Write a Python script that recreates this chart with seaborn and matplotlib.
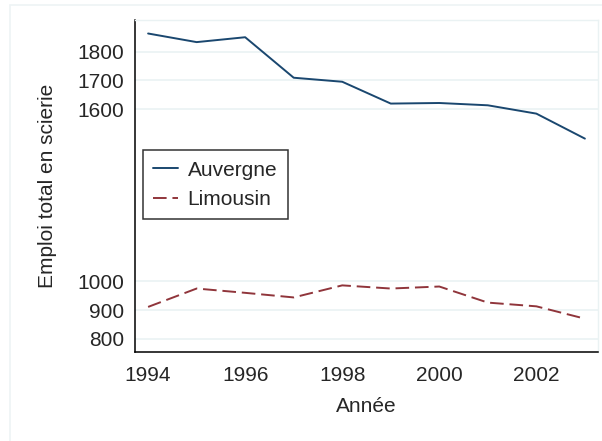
import pandas as pd
import matplotlib.pyplot as plt
import matplotlib.patches as mpatches
import seaborn as sns

# Data
years = [1994, 1995, 1996, 1997, 1998, 1999, 2000, 2001, 2002, 2003]
auvergne = [1863, 1833, 1850, 1709, 1695, 1619, 1621, 1613, 1584, 1497]
limousin = [911, 975, 960, 944, 986, 975, 982, 926, 913, 870]
regions = ['Auvergne', 'Limousin']
yticks = [800, 900, 1000, 1600, 1700, 1800]
xticks = [1994, 1996, 1998, 2000, 2002]

df = pd.DataFrame({
    'annee': years * 2,
    'emploi': auvergne + limousin,
    'region': [regions[0]] * len(years) + [regions[1]] * len(years),
})

sns.set_style('white')
plt.rcParams['font.family'] = ['Liberation Sans', 'DejaVu Sans']
fs = 15

fig = plt.figure(figsize=(6.02, 4.41), dpi=100)
# light outer frame like the graph region
fig.patches.append(mpatches.Rectangle((10 / 602, -0.1), 1.2, 1 - 5 / 441 + 0.1,
                                      transform=fig.transFigure, fill=False,
                                      edgecolor='#eef3f5', linewidth=1.2))
ax = fig.add_axes([135 / 602, 1 - 352 / 441, 463 / 602, 332 / 441])

sns.lineplot(data=df, x='annee', y='emploi', hue='region', style='region',
             palette={'Auvergne': '#1a476f', 'Limousin': '#90353b'},
             dashes={'Auvergne': '', 'Limousin': (7, 3)},
             linewidth=1.4, ax=ax)

ax.set_xlim(1993.73, 2003.27)
ax.set_ylim(754, 1910)
ax.set_yticks(yticks)
ax.set_xticks(xticks)
ax.yaxis.grid(True, color='#eaf2f3', linewidth=1.2)
ax.set_axisbelow(True)

for side in ['top', 'right']:
    ax.spines[side].set_color('#eaf2f3')
    ax.spines[side].set_linewidth(1.0)
for side in ['left', 'bottom']:
    ax.spines[side].set_color('black')
    ax.spines[side].set_linewidth(1.1)

ax.tick_params(axis='both', which='major', labelsize=fs, length=5.5,
               width=1.0, color='black', direction='out')
ax.tick_params(axis='y', pad=2)
ax.tick_params(axis='x', pad=4.5)

ax.set_xlabel('Année', fontsize=fs, labelpad=9)
ax.set_ylabel('Emploi total en scierie', fontsize=fs, labelpad=15)

leg = ax.legend(loc='upper left', bbox_to_anchor=(0.0166, 0.608),
                borderaxespad=0, fontsize=fs, frameon=True, fancybox=False,
                edgecolor='black', handlelength=1.2, handletextpad=0.45,
                labelspacing=0.5, borderpad=0.5, title=None)
leg.get_frame().set_linewidth(1.1)

fig.savefig('out.png', dpi=100, facecolor='white')
